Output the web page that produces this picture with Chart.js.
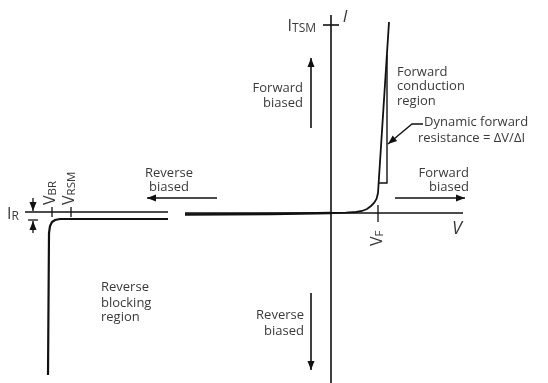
<!DOCTYPE html>
<html><head><meta charset="utf-8">
<script src="https://cdn.jsdelivr.net/npm/chart.js@4/dist/chart.umd.min.js"></script>
<style>html,body{margin:0;padding:0;background:#fff;}</style>
</head><body>
<canvas id="c" width="548" height="383"></canvas>
<script>
// Diagram units: V (horizontal) and I (vertical), origin at the axes crossing
const vAxisRight   = [[-146,0],[132,0]];
const vAxisLeft    = [[-306,1],[-163,1]];
const iAxis        = [[0,198],[0,-170]];
const itsmTick     = [[-8,188],[8,188]];
const reverseLeft  = [[-163,-6],[-250,-6],[-271,-6],[-276,-7],[-279,-9],[-281,-13],[-282,-20],[-283,-162]];
const reverseRight = [[-146,-1.5],[-60,-1],[0,0]];
const forwardCurve = [[0,0],[15,0.4],[25,1],[31,2],[36,4],[40,7],[43,10],[45.5,14],[47,20],[58,191]];
const dynTriangle  = [[47.6,30],[56,30],[56,158]];
const vbrTick      = [[-279,6],[-279,-4]];
const vrsmTick     = [[-260,6],[-260,-4]];
const vfTick       = [[47,8],[47,-9]];
const irBar        = [[-303,-7],[-293,-7]];
// arrows (last point = tip)
const arrowUp      = [[-20,85],[-20,155]];
const arrowDown    = [[-20,-80],[-20,-157]];
const arrowRight   = [[64,15],[134,15]];
const arrowLeft    = [[-114,15],[-184,15]];
const irArrowDown  = [[-298,15],[-298,2]];
const irArrowUp    = [[-298,-20],[-298,-8]];
const leader       = [[92,89],[81,89],[57,69]];

const T = 13;
const labels = [
  {parts:[['I',16],['TSM',12]], x:-15, y:188, align:'right'},
  {parts:[['I',17]], x:14, y:197, align:'center', italic:true},
  {parts:[['V',18]], x:126, y:-15, align:'center', italic:true},
  {parts:[['Forward',T]], x:66, y:142, align:'left'},
  {parts:[['conduction',T]], x:66, y:128, align:'left'},
  {parts:[['region',T]], x:66, y:113, align:'left'},
  {parts:[['Dynamic forward',T]], x:93, y:92, align:'left'},
  {parts:[['resistance = \u0394V/\u0394I',T]], x:87, y:76, align:'left'},
  {parts:[['Forward',T]], x:138, y:41, align:'right'},
  {parts:[['biased',T]], x:138, y:27, align:'right'},
  {parts:[['Forward',T]], x:-28, y:126, align:'right'},
  {parts:[['biased',T]], x:-28, y:111, align:'right'},
  {parts:[['Reverse',T]], x:-27, y:-101, align:'right'},
  {parts:[['biased',T]], x:-27, y:-117, align:'right'},
  {parts:[['Reverse',T]], x:-162, y:41, align:'center'},
  {parts:[['biased',T]], x:-162, y:27, align:'center'},
  {parts:[['Reverse',T]], x:-230, y:-73, align:'left'},
  {parts:[['blocking',T]], x:-230, y:-89, align:'left'},
  {parts:[['region',T]], x:-230, y:-103, align:'left'},
  {parts:[['I',16],['R',12]], x:-324, y:0, align:'left'},
  {parts:[['V',16],['BR',11.5]], x:-282, y:8, align:'left', rotate:true},
  {parts:[['V',16],['RSM',11.5]], x:-263, y:8, align:'left', rotate:true},
  {parts:[['V',16],['F',11.5]], x:45, y:-33, align:'left', rotate:true}
];

const toXY = a => a.map(p => ({x:p[0], y:p[1]}));
function line(d, w, extra) {
  return Object.assign({data:toXY(d), showLine:true, borderColor:'#111', borderWidth:w,
    pointRadius:0, fill:false, tension:0}, extra||{});
}
const datasets = [
  line(vAxisRight,1.6), line(vAxisLeft,1.6), line(iAxis,1.6), line(itsmTick,1.6),
  line(reverseLeft,2.2), line(reverseRight,2.4), line(forwardCurve,1.8),
  line(dynTriangle,1.4), line(vbrTick,1.3), line(vrsmTick,1.3), line(vfTick,1.3), line(irBar,1.3),
  line(arrowUp,1.6,{arrow:true}), line(arrowDown,1.6,{arrow:true}),
  line(arrowRight,1.6,{arrow:true}), line(arrowLeft,1.6,{arrow:true}),
  line(irArrowDown,1.3,{arrow:true}), line(irArrowUp,1.3,{arrow:true}),
  line(leader,1.3,{arrow:true})
];

const FONT = '"Open Sans", sans-serif';
const annot = {
  id:'annot',
  afterDatasetsDraw(chart) {
    const ctx = chart.ctx, xs = chart.scales.x, ys = chart.scales.y;
    ctx.save();
    chart.data.datasets.forEach(ds => {
      if (!ds.arrow) return;
      const n = ds.data.length;
      const a = ds.data[n-2], b = ds.data[n-1];
      const ax = xs.getPixelForValue(a.x), ay = ys.getPixelForValue(a.y);
      const bx = xs.getPixelForValue(b.x), by = ys.getPixelForValue(b.y);
      const ang = Math.atan2(by-ay, bx-ax);
      const L = 9, W = 3.5;
      ctx.fillStyle = '#111';
      ctx.beginPath();
      ctx.moveTo(bx, by);
      ctx.lineTo(bx - L*Math.cos(ang) + W*Math.sin(ang), by - L*Math.sin(ang) - W*Math.cos(ang));
      ctx.lineTo(bx - L*Math.cos(ang) - W*Math.sin(ang), by - L*Math.sin(ang) + W*Math.cos(ang));
      ctx.closePath();
      ctx.fill();
    });
    ctx.fillStyle = '#3a3a3a';
    ctx.textBaseline = 'alphabetic';
    labels.forEach(l => {
      const px = xs.getPixelForValue(l.x), py = ys.getPixelForValue(l.y);
      const style = l.italic ? 'italic ' : '';
      let total = 0; const widths = [];
      l.parts.forEach(p => { ctx.font = style + p[1] + 'px ' + FONT; const w = ctx.measureText(p[0]).width; widths.push(w); total += w; });
      const big = l.parts[0][1];
      ctx.save();
      ctx.translate(px, py);
      if (l.rotate) ctx.rotate(-Math.PI/2);
      let start = l.align === 'right' ? -total : (l.align === 'center' ? -total/2 : 0);
      const base = big*0.36;
      l.parts.forEach((p, i) => {
        ctx.font = style + p[1] + 'px ' + FONT;
        ctx.textAlign = 'left';
        ctx.fillText(p[0], start, base + (i>0 ? 1 : 0));
        start += widths[i];
      });
      ctx.restore();
    });
    ctx.restore();
  }
};

new Chart(document.getElementById('c'), {
  type:'scatter',
  data:{datasets},
  options:{
    responsive:false, animation:false,
    layout:{padding:0},
    plugins:{legend:{display:false}, tooltip:{enabled:false}},
    scales:{
      x:{type:'linear', min:-331, max:217, display:false},
      y:{type:'linear', min:-170, max:213, display:false}
    }
  },
  plugins:[annot]
});
</script>
</body></html>
